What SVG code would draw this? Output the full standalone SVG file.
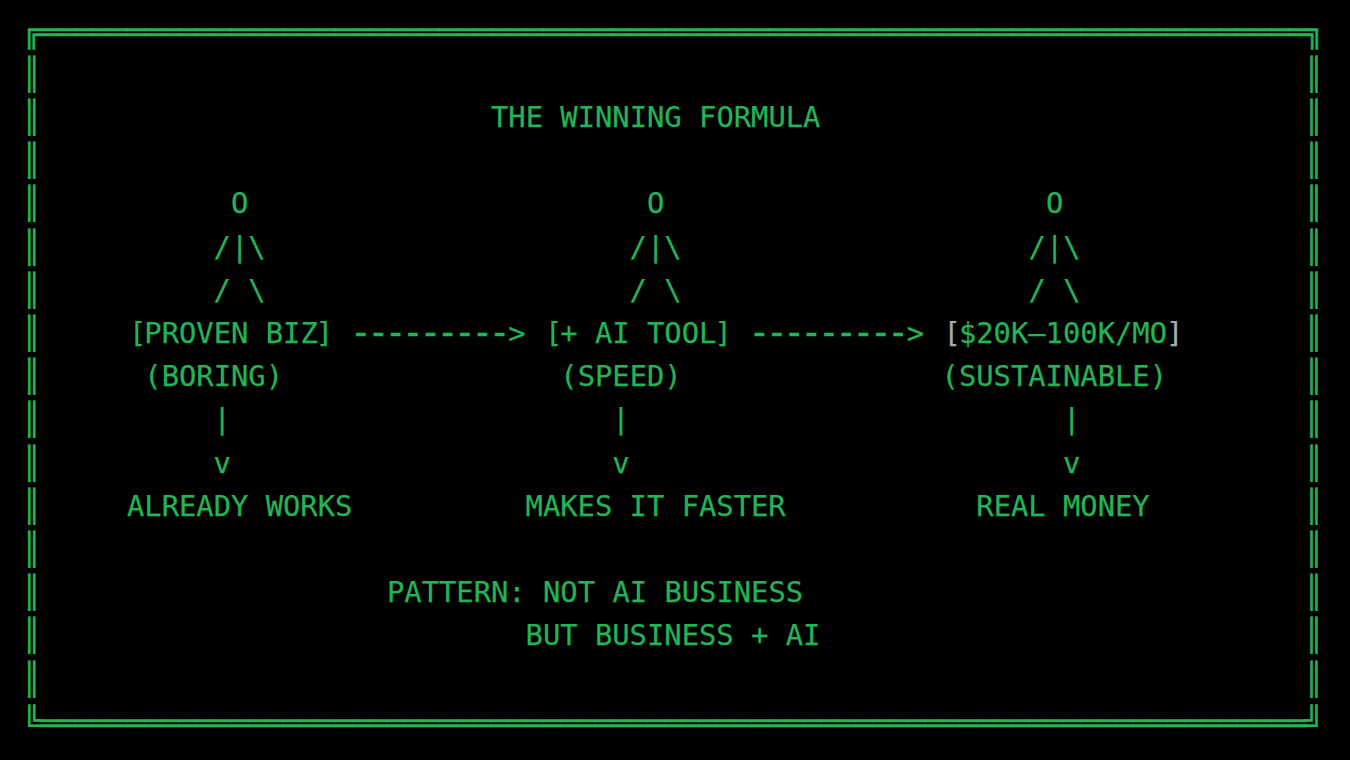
<svg xmlns="http://www.w3.org/2000/svg" width="1350" height="760" viewBox="0 0 1350 760">
<style>
text{font-family:"DejaVu Sans Mono","Liberation Mono",monospace;font-size:28.8px;fill:#22b455;stroke:#22b455;stroke-width:.25px;white-space:pre}
.g{fill:#a9a9ad;stroke:#a9a9ad}
.d{font-size:37px;letter-spacing:-4.94px}
.b{stroke-width:.5px}
.v{font-size:31.6px;stroke-width:.15px}
</style>
<rect width="1350" height="760" fill="#000"/>
<g id="frame">
<text class="b" x="23" y="41.6">╔═════════════════════════════════════════════════════════════════════════╗</text>
<text class="v" x="22.2" y="84.8">║</text><text class="v" x="1304.6" y="84.8">║</text>
<text class="v" x="22.2" y="128">║</text><text class="v" x="1304.6" y="128">║</text>
<text class="v" x="22.2" y="171.2">║</text><text class="v" x="1304.6" y="171.2">║</text>
<text class="v" x="22.2" y="214.4">║</text><text class="v" x="1304.6" y="214.4">║</text>
<text class="v" x="22.2" y="257.6">║</text><text class="v" x="1304.6" y="257.6">║</text>
<text class="v" x="22.2" y="300.8">║</text><text class="v" x="1304.6" y="300.8">║</text>
<text class="v" x="22.2" y="344">║</text><text class="v" x="1304.6" y="344">║</text>
<text class="v" x="22.2" y="387.2">║</text><text class="v" x="1304.6" y="387.2">║</text>
<text class="v" x="22.2" y="430.4">║</text><text class="v" x="1304.6" y="430.4">║</text>
<text class="v" x="22.2" y="473.6">║</text><text class="v" x="1304.6" y="473.6">║</text>
<text class="v" x="22.2" y="516.8">║</text><text class="v" x="1304.6" y="516.8">║</text>
<text class="v" x="22.2" y="560">║</text><text class="v" x="1304.6" y="560">║</text>
<text class="v" x="22.2" y="603.2">║</text><text class="v" x="1304.6" y="603.2">║</text>
<text class="v" x="22.2" y="646.4">║</text><text class="v" x="1304.6" y="646.4">║</text>
<text class="v" x="22.2" y="689.6">║</text><text class="v" x="1304.6" y="689.6">║</text>
<text class="v" x="22.2" y="734">╚</text><text class="v" x="1304.6" y="734">╝</text>
<text class="b" x="40.3" y="732.8">═════════════════════════════════════════════════════════════════════════</text>
</g>
<g transform="translate(0,-1)">
<g id="title"><text x="491" y="128">THE WINNING FORMULA</text></g>
<g id="node-proven-biz">
<text x="231" y="214.4">O</text>
<text x="213.6" y="257.6">/|\</text>
<text x="213.6" y="300.8">/ \</text>
<text x="127" y="344"><tspan dx="2">[</tspan><tspan dx="-2">PROVEN BIZ</tspan><tspan dx="-2">]</tspan></text>
<text x="144.3" y="387.2">(BORING)</text>
<text x="127" y="516.8">ALREADY WORKS</text>
</g>
<g id="node-ai-tool">
<text x="647" y="214.4">O</text>
<text x="629.6" y="257.6">/|\</text>
<text x="629.6" y="300.8">/ \</text>
<text x="543" y="344"><tspan dx="2">[</tspan><tspan dx="-2">+ AI TOOL</tspan><tspan dx="-2">]</tspan></text>
<text x="560.3" y="387.2">(SPEED)</text>
<text x="525.6" y="516.8">MAKES IT FASTER</text>
</g>
<g id="node-money">
<text x="1046" y="214.4">O</text>
<text x="1028.6" y="257.6">/|\</text>
<text x="1028.6" y="300.8">/ \</text>
<text x="941.6" y="344"><tspan class="g" dx="2">[</tspan><tspan dx="-2">$20K–100K/MO</tspan><tspan class="g" dx="-1">]</tspan></text>
<text x="941.6" y="387.2">(SUSTAINABLE)</text>
<text x="976.3" y="516.8">REAL MONEY</text>
</g>
<g id="connectors">
<text x="352.3" y="344"><tspan class="d" dx="-2.47" dy="2.3">---------</tspan><tspan dx="2.47" dy="-2.3">&gt;</tspan></text>
<text x="750.8" y="344"><tspan class="d" dx="-2.47" dy="2.3">---------</tspan><tspan dx="2.47" dy="-2.3">&gt;</tspan></text>
<text x="213.6" y="430.4">|</text>
<text x="213.6" y="473.6">v</text>
<text x="612.3" y="430.4">|</text>
<text x="612.3" y="473.6">v</text>
<text x="1063" y="430.4">|</text>
<text x="1063" y="473.6">v</text>
</g>
<g id="pattern">
<text x="387" y="603.2">PATTERN: NOT AI BUSINESS</text>
<text x="525.6" y="646.4">BUT BUSINESS + AI</text>
</g>
</g>
</svg>
